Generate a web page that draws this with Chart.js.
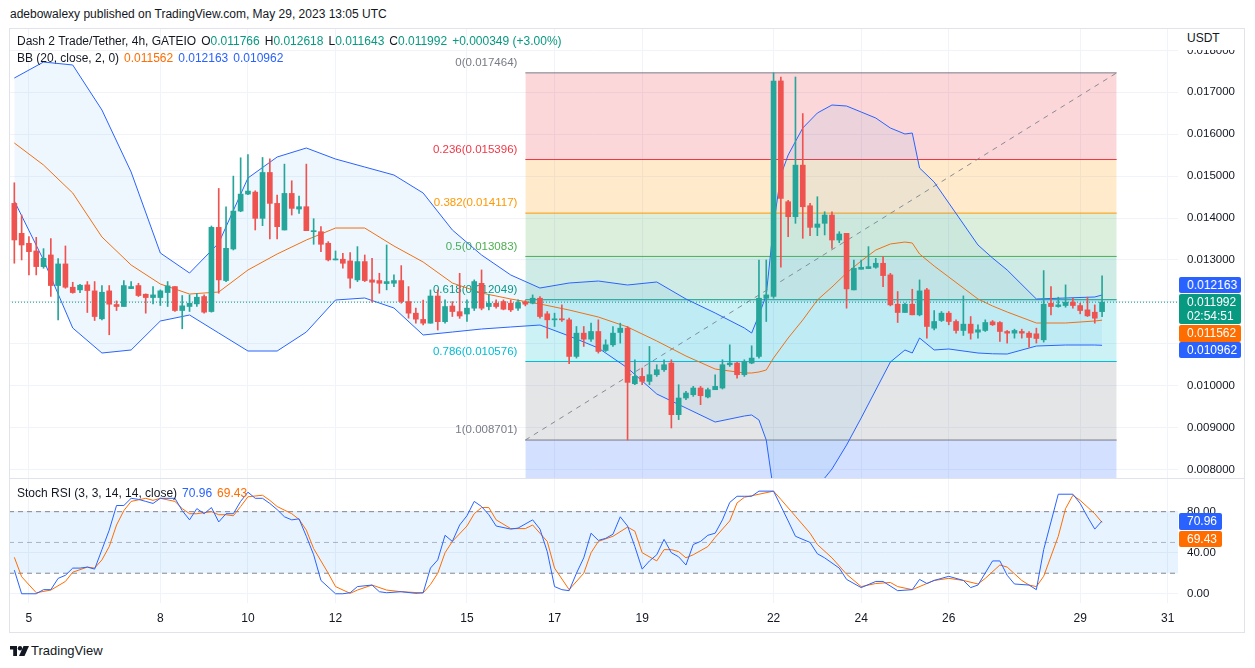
<!DOCTYPE html>
<html lang="en">
<head>
<meta charset="UTF-8">
<title>Dash 2 Trade/Tether 4h</title>
<script src="https://cdn.jsdelivr.net/npm/chart.js"></script>
<style>
  body { margin:0; width:1255px; height:668px; overflow:hidden; position:relative; background:#fff;
         font-family:"Liberation Sans", Arial, sans-serif; color:#131722; }
  .box { position:absolute; }
  #priceBox { left:9px; top:28px; width:1236px; height:450px; }
  #stochBox { left:9px; top:478px; width:1236px; height:154px; }
  .frame { position:absolute; left:9px; top:28px; width:1236px; height:605px; border:1px solid #e0e3eb;
           box-sizing:border-box; pointer-events:none; }
  .sep { position:absolute; left:9px; top:478px; width:1236px; height:1px; background:#e0e3eb; }
  .txt { position:absolute; white-space:nowrap; font-size:12px; line-height:14px; }
  .g { color:#089981; }
  .o { color:#ff6d00; }
  .b { color:#2962ff; }
  .gap { margin-left:5px; }
  .badge { position:absolute; left:1179px; width:62px; color:#fff; font-size:12px; line-height:16px;
           padding-left:8px; box-sizing:border-box; border-radius:2px; }
  .usdt { position:absolute; left:1179px; top:29px; width:65px; height:21px; background:#fff;
          font-size:12px; line-height:21px; padding-left:8px; padding-bottom:3px; box-sizing:border-box; }
</style>
</head>
<body>
<div class="txt" style="left:10px;top:7px;">adebowalexy published on TradingView.com, May 29, 2023 13:05 UTC</div>

<div id="priceBox" class="box"><canvas id="priceChart"></canvas></div>
<div id="stochBox" class="box"><canvas id="stochChart"></canvas></div>
<div class="sep"></div>
<div class="frame"></div>

<div class="txt" style="left:17px;top:34px;">Dash 2 Trade/Tether, 4h, GATEIO<span class="gap">O</span><span class="g">0.011766</span><span class="gap">H</span><span class="g">0.012618</span><span class="gap">L</span><span class="g">0.011643</span><span class="gap">C</span><span class="g">0.011992</span><span class="gap g">+0.000349 (+3.00%)</span></div>
<div class="txt" style="left:17px;top:51px;">BB (20, close, 2, 0)<span class="gap o">0.011562</span><span class="gap b">0.012163</span><span class="gap b">0.010962</span></div>
<div class="txt" style="left:17px;top:486px;">Stoch RSI (3, 3, 14, 14, close)<span class="gap b">70.96</span><span class="gap o">69.43</span></div>

<div class="usdt" style="line-height:18px;">USDT</div>
<div class="badge" style="top:277px;height:16px;background:#2962ff;">0.012163</div>
<div class="badge" style="top:294px;height:30px;background:#089981;line-height:14px;padding-top:1px;">0.011992<br>02:54:51</div>
<div class="badge" style="top:325px;height:17px;background:#ff6d00;">0.011562</div>
<div class="badge" style="top:342px;height:16px;background:#2962ff;">0.010962</div>
<div class="badge" style="top:513px;height:17px;width:43px;background:#2962ff;">70.96</div>
<div class="badge" style="top:531px;height:16px;width:43px;background:#ff6d00;">69.43</div>

<div class="txt" style="left:10px;top:643px;font-size:13px;line-height:15px;">
  <svg width="19" height="10" viewBox="0 0 19 10" style="vertical-align:-1px;margin-right:2px;">
    <rect x="0" y="0" width="7" height="3.5" fill="#131722"/>
    <rect x="3.2" y="0" width="3.8" height="10" fill="#131722"/>
    <circle cx="10" cy="2.3" r="2.2" fill="#131722"/>
    <polygon points="13.5,0 19,0 14.5,10 9,10" fill="#131722"/>
  </svg>TradingView</div>

<script>
// 4h candles, index 0 = May 4 16:00 UTC, last = May 29 12:00 UTC
const opens = [0.014349,0.013634,0.013396,0.013214,0.012840,0.013118,0.012388,0.012904,0.012348,0.012285,
  0.012404,0.012261,0.011594,0.012261,0.011935,0.011888,0.012316,0.012388,0.012181,0.012102,
  0.012102,0.012221,0.012364,0.011792,0.011888,0.011951,0.012126,0.011768,0.013777,0.012507,
  0.013261,0.014166,0.014571,0.014619,0.013992,0.015087,0.014349,0.013714,0.014587,0.014214,
  0.014270,0.013674,0.013674,0.013397,0.013000,0.013016,0.012976,0.012523,0.012960,0.012523,
  0.012507,0.012435,0.012443,0.012507,0.012007,0.011729,0.011580,0.011490,0.012138,0.011526,
  0.011900,0.011765,0.011709,0.011848,0.012441,0.011887,0.011967,0.012006,0.011967,0.011848,
  0.011991,0.011967,0.012086,0.011713,0.011570,0.011594,0.011570,0.010696,0.011252,0.011109,
  0.011292,0.010839,0.010974,0.011268,0.011371,0.010045,0.010220,0.010101,0.010260,0.010379,
  0.010538,0.009307,0.009704,0.009783,0.009942,0.009728,0.009902,0.009942,0.010498,0.010538,
  0.010260,0.010538,0.010696,0.012086,0.012126,0.017271,0.014389,0.014031,0.015262,0.014293,
  0.013777,0.013873,0.014071,0.013475,0.013634,0.012284,0.012777,0.012793,0.012824,0.012920,
  0.012642,0.011943,0.011745,0.011943,0.011689,0.012284,0.011371,0.011554,0.011729,0.011530,
  0.011316,0.011467,0.011276,0.011316,0.011522,0.011506,0.011292,0.011252,0.011292,0.011252,
  0.011236,0.011093,0.011967,0.011887,0.011911,0.011991,0.011911,0.011808,0.011752,0.011766];
const highs = [0.014841,0.014071,0.013555,0.013539,0.013269,0.013507,0.013031,0.013333,0.012467,0.012420,
  0.012483,0.012483,0.012388,0.012388,0.012023,0.012507,0.012483,0.012443,0.012189,0.012364,
  0.012285,0.012483,0.012364,0.012150,0.012165,0.012205,0.012165,0.013809,0.014706,0.014269,
  0.015000,0.015437,0.015516,0.014650,0.015445,0.015413,0.014547,0.015286,0.014889,0.014524,
  0.015286,0.013984,0.013793,0.013436,0.013214,0.013158,0.013174,0.013317,0.013118,0.013039,
  0.012682,0.013356,0.012642,0.012864,0.012364,0.011848,0.012040,0.012284,0.012284,0.012046,
  0.012006,0.012681,0.012046,0.012523,0.012761,0.012165,0.012046,0.012046,0.012046,0.012046,
  0.012030,0.012165,0.012126,0.011768,0.011729,0.011927,0.011609,0.011411,0.011411,0.011490,
  0.011570,0.011093,0.011411,0.011490,0.011411,0.010617,0.010418,0.010935,0.010498,0.010617,
  0.010617,0.010021,0.009863,0.009982,0.009982,0.009942,0.010260,0.010617,0.010974,0.010554,
  0.010617,0.010950,0.012999,0.012999,0.017464,0.017366,0.014420,0.017366,0.016493,0.014349,
  0.014508,0.014150,0.014150,0.013674,0.013634,0.012999,0.012999,0.013317,0.013039,0.013079,
  0.012681,0.012245,0.011967,0.012300,0.012523,0.012324,0.011792,0.011768,0.011768,0.011570,
  0.012142,0.011649,0.011451,0.011570,0.011554,0.011530,0.011316,0.011347,0.011347,0.011292,
  0.011371,0.012745,0.012364,0.012110,0.012404,0.012086,0.011967,0.012110,0.011927,0.012618];
const lows = [0.012921,0.012999,0.012642,0.012642,0.012801,0.012126,0.011570,0.012324,0.012205,0.012221,
  0.011745,0.011554,0.011570,0.011213,0.011792,0.011888,0.012316,0.012126,0.011729,0.011952,
  0.011912,0.011888,0.011769,0.011356,0.011769,0.011888,0.011729,0.011753,0.012205,0.012483,
  0.013237,0.014150,0.014555,0.013714,0.013817,0.013500,0.013500,0.013714,0.014071,0.014111,
  0.013698,0.013373,0.013198,0.012976,0.013000,0.012801,0.012324,0.012483,0.012483,0.011991,
  0.012205,0.012285,0.012364,0.011967,0.011610,0.011490,0.011446,0.011490,0.011327,0.011490,
  0.011649,0.011605,0.011530,0.011792,0.011808,0.011808,0.011848,0.011808,0.011768,0.011792,
  0.011903,0.011951,0.011609,0.011133,0.011411,0.011530,0.010522,0.010657,0.010935,0.011054,
  0.010776,0.010815,0.010935,0.011014,0.008701,0.010021,0.010021,0.010021,0.010220,0.010339,
  0.008989,0.009188,0.009664,0.009743,0.009545,0.009704,0.009902,0.009918,0.010458,0.010180,
  0.010220,0.010522,0.010657,0.011530,0.012086,0.012824,0.013555,0.013873,0.013515,0.013579,
  0.013579,0.013595,0.013277,0.013412,0.011848,0.012284,0.012777,0.012793,0.012800,0.012364,
  0.011903,0.011506,0.011745,0.011689,0.011665,0.011133,0.011332,0.011530,0.011451,0.011252,
  0.011197,0.011109,0.011133,0.011292,0.011435,0.011054,0.011014,0.011133,0.011133,0.010919,
  0.011014,0.011038,0.011689,0.011871,0.011871,0.011848,0.011713,0.011649,0.011490,0.011643];
const closes = [0.013476,0.013356,0.013198,0.012840,0.013039,0.012388,0.012904,0.012348,0.012221,0.012396,
  0.012269,0.011649,0.012229,0.011943,0.011888,0.012388,0.012364,0.012150,0.012102,0.012165,
  0.012261,0.012380,0.011792,0.011904,0.011967,0.012110,0.011753,0.013777,0.012523,0.013277,
  0.014166,0.014571,0.014643,0.013992,0.015087,0.014349,0.013793,0.014587,0.014230,0.014270,
  0.013698,0.013698,0.013373,0.013000,0.013024,0.012920,0.012563,0.012960,0.012507,0.012467,
  0.012443,0.012483,0.012507,0.012007,0.011729,0.011586,0.011490,0.012138,0.011526,0.011887,
  0.011768,0.011661,0.011848,0.012483,0.011848,0.011967,0.011887,0.011824,0.011808,0.011983,
  0.011943,0.012086,0.011649,0.011570,0.011594,0.011570,0.010696,0.011252,0.011109,0.011292,
  0.010815,0.010974,0.011252,0.011371,0.010077,0.010220,0.010101,0.010260,0.010379,0.010498,
  0.009307,0.009704,0.009823,0.009942,0.009759,0.009902,0.009982,0.010498,0.010538,0.010260,
  0.010577,0.010657,0.012086,0.012165,0.017271,0.014468,0.014031,0.015262,0.014269,0.013777,
  0.013857,0.014071,0.013475,0.013618,0.012308,0.012801,0.012824,0.012840,0.012920,0.012626,
  0.011927,0.011745,0.011943,0.011689,0.012261,0.011411,0.011530,0.011729,0.011530,0.011316,
  0.011467,0.011252,0.011332,0.011506,0.011451,0.011292,0.011252,0.011316,0.011252,0.011149,
  0.011125,0.011943,0.011887,0.011927,0.011991,0.011911,0.011792,0.011665,0.011609,0.011992];

// Bollinger Bands (20, close, 2) at these candle indices
const bbIdx = [0,4,8,12,16,20,24,28,32,36,40,44,48,52,56,60,64,68,72,76,80,84,88,92,96,100,101,102,103,104,105,106,
  108,110,112,114,116,118,120,122,123,124,126,128,132,134,136,140,144,148,149];
const bbUpper = [0.017341,0.017723,0.017652,0.016578,0.015098,0.013165,0.012687,0.013403,0.014955,0.015456,0.015671,
  0.015408,0.015217,0.015026,0.014597,0.013714,0.013117,0.012640,0.012329,0.012449,0.012496,0.012401,0.012473,
  0.012067,0.011733,0.011375,0.011255,0.011685,0.012162,0.013833,0.015026,0.015504,0.016148,0.016506,0.016697,
  0.016673,0.016530,0.016387,0.016148,0.016005,0.016029,0.015193,0.014859,0.014358,0.013356,0.013045,0.012759,
  0.012067,0.012091,0.012115,0.012163];
const bbMid = [0.015790,0.015265,0.014597,0.013547,0.012878,0.012425,0.012186,0.012234,0.012759,0.013141,0.013475,
  0.013761,0.013761,0.013332,0.012950,0.012449,0.012210,0.012067,0.011948,0.011804,0.011637,0.011399,0.011065,
  0.010706,0.010396,0.010301,0.010301,0.010325,0.010372,0.010659,0.010897,0.011136,0.011566,0.012043,0.012353,
  0.012687,0.012974,0.013236,0.013380,0.013427,0.013403,0.013141,0.012854,0.012592,0.012067,0.011900,0.011757,
  0.011494,0.011494,0.011542,0.011562];
const bbLower = [0.014406,0.012998,0.011375,0.010778,0.010850,0.011542,0.011685,0.011255,0.010826,0.010826,0.011279,
  0.012043,0.012091,0.011852,0.011208,0.011279,0.011351,0.011399,0.011446,0.011184,0.010897,0.010420,0.009800,
  0.009466,0.009131,0.009275,0.009299,0.009179,0.008700,0.007485,0.007000,0.006768,0.006984,0.007580,0.008009,
  0.008582,0.009227,0.009895,0.010563,0.010850,0.010778,0.011136,0.010850,0.010874,0.010778,0.010760,0.010754,
  0.010945,0.010969,0.010969,0.010962];

// Stoch RSI %K (blue) and %D (orange)
const kIdx = [0,1,3,4,5,6,7,8,9,10,11,12,13,14,15,16,17,18,19,20,22,23,24,25,26,27,28,29,30,31,32,33,34,35,36,37,38,
  39,40,41,42,44,45,46,47,49,50,51,53,55,56,57,58,59,60,61,62,63,64,65,66,68,69,71,72,73,74,75,76,77,78,79,80,81,82,
  83,84,85,86,87,88,89,90,91,92,93,94,95,96,97,98,99,100,101,102,104,106,107,109,110,111,113,114,116,118,119,121,123,
  124,125,126,128,130,131,132,134,135,136,137,139,140,141,143,145,146,147,148,149];
const kVals = [23,0,0,4,4,15,18,25,25,26,24,43,62,86,86,93,92,90,88,93,93,81,72,83,78,84,70,78,78,90,99,93,93,88,82,
  75,72,73,56,38,13,0,0,1,7,8.5,2,1,2,0.4,1,25,33,57,51,67,76,90,85,77,66,63,64,72,63,41,7,4,3,20,35,59,52,54,58,
  75,66,46,24,32,38,53,40,36,28,48,51,57,59,72,89,95,95,95,100,100,71,56,50,39,35,25,14,6,12,12,3,4,14,10,13,17,
  13,6,8.5,32,32,18,9.5,8.5,4,43,97,97,88,75,63,70.96];
const dIdx = [0,1,3,5,7,8,10,11,12,13,14,15,16,18,19,20,22,23,24,25,27,28,29,30,31,32,34,35,36,38,39,40,41,43,44,46,
  47,49,51,53,56,57,58,59,60,62,63,64,65,66,68,70,71,73,74,76,78,79,80,82,84,85,86,88,89,90,91,92,93,95,96,98,99,100,
  102,104,105,107,109,110,112,114,116,118,120,121,123,125,126,128,130,132,133,135,136,138,139,140,141,143,144,145,
  146,148,149];
const dVals = [35.5,16.6,1,3.6,12,21,26,25,33,46,67,81,90,93,91,93,90,83,78,78,80,77,77,76,85,94.5,96,91,85,78,72.5,
  62,44,20,7,0.4,3.6,8.5,3.6,2,0.8,9,20,40,51,66,78,84,84,72,63.5,63.5,67,51,25,4,20,40,51,56,65,61,40,32,43,43,41,
  35,38,46,55,71,88.5,94,97,100,92,75.5,59,48,35,19,7,10,11,7,4,10,13,15,13,9.5,15,28,26,13,8.5,7,17,56,83,96,91,
  78,69.43];

// Fibonacci retracement levels (as labelled on the chart)
const fibRatios = [0, 0.236, 0.382, 0.5, 0.618, 0.786, 1, 1.618];
const fibPrices = [0.017464, 0.015396, 0.014117, 0.013083, 0.012049, 0.010576, 0.008701, 0.003285];

const dayTickIdx = [2, 20, 32, 44, 62, 74, 86, 104, 116, 128, 146, 158];
const dayTickLabels = ['5', '8', '10', '12', '15', '17', '19', '22', '24', '26', '29', '31'];
const priceTicks = [0.008, 0.009, 0.010, 0.011, 0.012, 0.013, 0.014, 0.015, 0.016, 0.017, 0.018];
const stochTicks = [0, 40, 80];
const stochBands = [80, 50, 20];

// layout / style
const X_MIN = -0.73, X_MAX = 159.4;
const FIB_FROM = 70, FIB_TO = 151;
const UP = '#26a69a', DOWN = '#ef5350';
const GRID = '#f0f3fa';
const fibColors = ['#787b86', '#f23645', '#ff9800', '#4caf50', '#089981', '#00bcd4', '#787b86', '#2962ff'];
const FONT = '"Liberation Sans", Arial, sans-serif';

Chart.defaults.font.family = FONT;
Chart.defaults.color = '#131722';

function rgba(hex, a) {
  const n = parseInt(hex.slice(1), 16);
  return `rgba(${n >> 16},${(n >> 8) & 255},${n & 255},${a})`;
}
function pts(xs, ys) { return xs.map((x, i) => ({ x: x, y: ys[i] })); }
// keep the plot area flush with the canvas edges (no room reserved for edge labels)
function noPad(ax) { ax.paddingTop = 0; ax.paddingBottom = 0; ax.paddingLeft = 0; ax.paddingRight = 0; }

const idx = opens.map((_, i) => i);
const candleColor = idx.map(i => closes[i] >= opens[i] ? UP : DOWN);
const lastClose = closes[closes.length - 1];

const fibSets = fibPrices.map((p, k) => ({
  type: 'line',
  data: [{ x: FIB_FROM, y: p }, { x: FIB_TO, y: p }],
  borderColor: fibColors[k],
  borderWidth: 1,
  pointRadius: 0,
  fill: k === 0 ? false : '-1',
  backgroundColor: rgba(fibColors[k], 0.2),
  order: 100
}));

const fibLabels = {
  id: 'fibLabels',
  beforeDatasetsDraw(chart) {
    const { ctx, scales: { x, y } } = chart;
    ctx.save();
    ctx.font = '11.5px ' + FONT;
    ctx.textAlign = 'right';
    ctx.textBaseline = 'middle';
    fibRatios.forEach((r, k) => {
      if (r > 1) return;
      ctx.fillStyle = fibColors[k];
      ctx.fillText(r + '(' + fibPrices[k].toFixed(6) + ')', x.getPixelForValue(FIB_FROM) - 8, y.getPixelForValue(fibPrices[k]) - 10);
    });
    ctx.restore();
  }
};

const dayAxis = (showLabels) => ({
  type: 'linear',
  min: X_MIN,
  max: X_MAX,
  offset: false,
  afterBuildTicks: ax => { ax.ticks = dayTickIdx.map(v => ({ value: v })); },
  ticks: {
    display: showLabels,
    autoSkip: false,
    maxRotation: 0,
    padding: 8,
    font: { size: 12 },
    callback: v => dayTickLabels[dayTickIdx.indexOf(v)]
  },
  grid: { color: GRID, drawTicks: false, offset: false },
  border: { display: false },
  afterFit: ax => { ax.height = showLabels ? 29 : 0; noPad(ax); }
});

const valueAxis = (min, max, ticks, fmt) => ({
  type: 'linear',
  position: 'right',
  min: min,
  max: max,
  afterBuildTicks: ax => { ax.ticks = ticks.map(v => ({ value: v })); },
  ticks: { padding: 9, font: { size: 11.5 }, callback: fmt },
  grid: { color: GRID, drawTicks: false },
  border: { display: false },
  afterFit: ax => { ax.width = 67; noPad(ax); }
});

new Chart(document.getElementById('priceChart'), {
  type: 'bar',
  data: {
    datasets: [
      ...fibSets,
      {
        type: 'line',
        data: [{ x: FIB_FROM, y: fibPrices[6] }, { x: FIB_TO, y: fibPrices[0] }],
        borderColor: 'rgba(120,123,134,0.85)', borderWidth: 1, borderDash: [5, 5],
        pointRadius: 0, fill: false, order: 60
      },
      {
        type: 'line', data: pts(bbIdx, bbUpper), borderColor: '#2962ff', borderWidth: 1,
        pointRadius: 0, fill: '+2', backgroundColor: 'rgba(33,150,243,0.08)', order: 50
      },
      {
        type: 'line', data: pts(bbIdx, bbMid), borderColor: '#ff6d00', borderWidth: 1,
        pointRadius: 0, fill: false, order: 50
      },
      {
        type: 'line', data: pts(bbIdx, bbLower), borderColor: '#2962ff', borderWidth: 1,
        pointRadius: 0, fill: false, order: 50
      },
      {
        type: 'line', data: [{ x: X_MIN, y: lastClose }, { x: X_MAX, y: lastClose }],
        borderColor: '#089981', borderWidth: 1, borderDash: [1, 2], pointRadius: 0, fill: false, order: 40
      },
      {
        label: 'wick',
        data: idx.map(i => ({ x: i, y: [lows[i], highs[i]] })),
        backgroundColor: candleColor, barThickness: 1, grouped: false, borderWidth: 0, order: 2
      },
      {
        label: 'body',
        data: idx.map(i => ({ x: i, y: [opens[i], closes[i]] })),
        backgroundColor: candleColor, barThickness: 5, minBarLength: 1, grouped: false, borderWidth: 0, order: 1
      }
    ]
  },
  options: {
    responsive: true,
    maintainAspectRatio: false,
    animation: false,
    layout: { padding: 0 },
    plugins: { legend: { display: false }, tooltip: { enabled: false } },
    scales: {
      x: dayAxis(false),
      y: valueAxis(0.007795, 0.018535, priceTicks, v => v.toFixed(6))
    }
  },
  plugins: [fibLabels]
});

const bandLine = (v, color) => ({
  data: [{ x: X_MIN, y: v }, { x: X_MAX, y: v }],
  borderColor: color, borderWidth: 1, borderDash: [5, 4], pointRadius: 0
});

new Chart(document.getElementById('stochChart'), {
  type: 'line',
  data: {
    datasets: [
      { ...bandLine(stochBands[0], 'rgba(120,123,134,0.9)'), fill: false, order: 10 },
      { ...bandLine(stochBands[2], 'rgba(120,123,134,0.9)'), fill: '-1', backgroundColor: 'rgba(33,150,243,0.11)', order: 10 },
      { ...bandLine(stochBands[1], 'rgba(120,123,134,0.55)'), fill: false, order: 10 },
      { data: pts(dIdx, dVals), borderColor: '#ff6d00', borderWidth: 1, pointRadius: 0, fill: false, order: 2 },
      { data: pts(kIdx, kVals), borderColor: '#2962ff', borderWidth: 1, pointRadius: 0, fill: false, order: 1 }
    ]
  },
  options: {
    responsive: true,
    maintainAspectRatio: false,
    animation: false,
    layout: { padding: 0 },
    plugins: { legend: { display: false }, tooltip: { enabled: false } },
    scales: {
      x: dayAxis(true),
      y: valueAxis(-9, 112.8, stochTicks, v => v.toFixed(2))
    }
  }
});
</script>
</body>
</html>
